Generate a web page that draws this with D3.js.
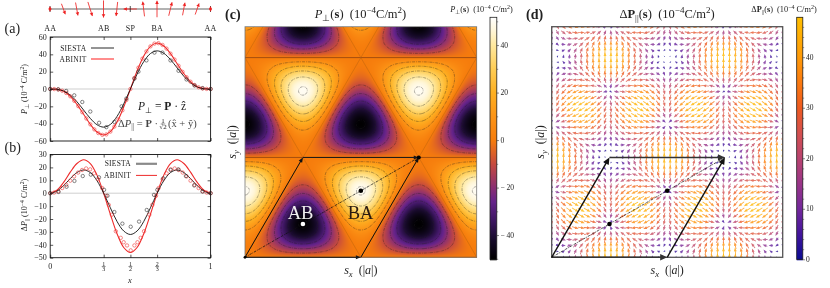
<!DOCTYPE html>
<html><head><meta charset="utf-8">
<script src="https://cdn.jsdelivr.net/npm/d3@7"></script>
<style>
html,body{margin:0;padding:0;background:#fff;overflow:hidden}
#wrap{position:relative;width:830px;height:288px}
canvas{position:absolute;left:0;top:0}
svg{position:absolute;left:0;top:0}
text{font-family:"Liberation Serif",serif;fill:#222;white-space:pre}
</style></head><body><div id="wrap"><canvas id="heat" width="830" height="288"></canvas><svg id="s" width="830" height="288"></svg></div>
<script>
// ---- panels (a) and (b): line data
const xCurve=[0,1/24,2/24,3/24,4/24,5/24,6/24,7/24,8/24,9/24,10/24,11/24,12/24,13/24,14/24,15/24,16/24,17/24,18/24,19/24,20/24,21/24,22/24,23/24,1];
const siestaPerp=[0,-.3,-2.3,-7,-14.7,-24.3,-33.9,-41.2,-44,-40.9,-31.6,-17.2,0,17.2,31.6,40.9,44,41.2,33.9,24.3,14.7,7,2.3,.3,0];
const abinitPerp=[0,-.4,-2.7,-8.4,-17.7,-29.2,-40.8,-49.6,-53,-49.2,-38.1,-20.8,0,20.8,38.1,49.2,53,49.6,40.8,29.2,17.7,8.4,2.7,.4,0];
const siestaPar=[0,1.6,5.9,11.3,16,18,16,9.7,0,-11.3,-21.9,-29.3,-32,-29.3,-21.9,-11.3,0,9.7,16,18,16,11.3,5.9,1.6,0];
const abinitPar=[0,2.3,8.4,16.3,23,25.9,23,14,0,-16.3,-31.4,-42.1,-46,-42.1,-31.4,-16.3,0,14,23,25.9,23,16.3,8.4,2.3,0];
const dotsPerpSiestaX=[0,.05,.1,.15,.2,.25,.305,.35,.4,.445,.475,.525,.55,.6,.65,.7,.75,.8,.85,.9,.95,1];
const dotsPerpSiestaY=[0,-.3,-2.3,-7.3,-15,-26,-39,-44,-38,-20,-11,12,20,33,42,42,33,21,11,4,1,0];
const dotsPerpAbinitX=[0,.025,.05,.075,.1,.125,.15,.175,.2,.225,.25,.275,.3,.325,.35,.375,.4,.425,.45,.475,.5,.525,.55,.575,.6,.625,.65,.675,.7,.725,.75,.775,.8,.825,.85,.875,.9,.925,.95,.975,1];
const dotsPerpAbinitY=[0,-.1,-.6,-2,-4.6,-8.4,-13.6,-19.8,-26.8,-34,-40.8,-46.6,-50.8,-52.9,-52.4,-49.2,-43.4,-35,-24.6,-12.7,0,12.7,24.6,35,43.4,49.2,52.4,52.9,50.8,46.6,40.8,34,26.8,19.8,13.6,8.4,4.6,2,.6,.1,0];
const dotsParSiestaX=[0,.052,.102,.151,.203,.253,.304,.336,.357,.4,.45,.502,.554,.602,.647,.668,.705,.751,.799,.846,.898,.95,1];
const dotsParSiestaY=[0,1,5,9.5,13.3,14.4,12.3,2.6,-2,-14.6,-23.6,-26,-22,-13,-1.3,2.6,11.5,18,18.5,13.3,6,1.3,0];
const dotsParAbinitX=[0,.025,.05,.075,.1,.125,.149,.174,.199,.224,.249,.274,.299,.324,.349,.365,.384,.409,.44,.458,.479,.502,.525,.544,.564,.585,.618,.637,.66,.676,.701,.726,.751,.776,.801,.826,.851,.875,.9,.925,.95,.975,1];
const dotsParAbinitY=[0,.5,1.5,4,6.5,9.7,13,16,18,19.2,18.5,15.4,10.8,4,-2,-9,-16.7,-29.5,-34.6,-38,-40.5,-44.3,-40.5,-38,-34.6,-29.5,-16.7,-9,-2,4,10.8,15.4,18.5,19.2,18,16,13,9.7,6.5,4,1.5,.5,0];
const yTicksA=[-60,-40,-20,0,20,40,60];
const yTicksB=[-50,-40,-30,-20,-10,0,10,20,30];
const xTicks=[0,1/3,1/2,2/3,1];
const siteLabels=["AA","AB","SP","BA","AA"];
// schematic dipole arrows above (a)
const dipoleX=[1/12,2/12,3/12,4/12,5/12,6/12,7/12,8/12,9/12,10/12,11/12];
const dipoleU=[13,8,15,0,-5,-44,-6,0,11,8,13];
const dipoleV=[-35,-43,-47,-57,-47,0,49,55,45,42,37];

// ---- panel (c): P_perp on one lattice cell, rows u=i/12, columns v=j/12
const perpCell=[
[0,0,0,0,0,0,0,0,0,0,0,0],
[0,-2.6,-7,-12.2,-16.7,-19.2,-19.2,-16.7,-12.2,-7,-2.6,0],
[0,-7,-16.7,-26.3,-33.3,-35.9,-33.3,-26.3,-16.7,-7,0,2.6],
[0,-12.2,-26.3,-38.5,-45.5,-45.5,-38.5,-26.3,-12.2,0,7,7],
[0,-16.7,-33.3,-45.5,-50,-45.5,-33.3,-16.7,0,12.2,16.7,12.2],
[0,-19.2,-35.9,-45.5,-45.5,-35.9,-19.2,0,16.7,26.3,26.3,16.7],
[0,-19.2,-33.3,-38.5,-33.3,-19.2,0,19.2,33.3,38.5,33.3,19.2],
[0,-16.7,-26.3,-26.3,-16.7,0,19.2,35.9,45.5,45.5,35.9,19.2],
[0,-12.2,-16.7,-12.2,0,16.7,33.3,45.5,50,45.5,33.3,16.7],
[0,-7,-7,0,12.2,26.3,38.5,45.5,45.5,38.5,26.3,12.2],
[0,-2.6,0,7,16.7,26.3,33.3,35.9,33.3,26.3,16.7,7],
[0,0,2.6,7,12.2,16.7,19.2,19.2,16.7,12.2,7,2.6]];
const contourLevels=[-49,-40,-30,-20,-10,10,20,30,40,49];
const perpStops=[-50.2,-42,-34,-26,-20,-10,0,10,20,30,40,46,51.7];
const perpColors=["#000000","#170a2a","#3c1660","#65238a","#8a2e72","#c64a3e","#f67c0c","#fc9416","#feb022","#ffcd55","#ffe9a0","#fff6d8","#ffffff"];
const cbarTicksC=[-40,-20,0,20,40];
const cbarMinorC=[-50,-30,-10,10,30,50];

// ---- panel (d): in-plane vector on one lattice cell
const quiverVx=[
[0,2.7,10.2,20.4,30.5,38,40.7,38,30.5,20.4,10.2,2.7],
[0,7.4,17.6,27.8,35.2,38,35.2,27.8,17.6,7.4,0,-2.7],
[0,10.2,20.4,27.8,30.5,27.8,20.4,10.2,0,-7.4,-10.2,-7.4],
[0,10.2,17.6,20.4,17.6,10.2,0,-10.2,-17.6,-20.4,-17.6,-10.2],
[0,7.4,10.2,7.4,0,-10.2,-20.4,-27.8,-30.5,-27.8,-20.4,-10.2],
[0,2.7,0,-7.4,-17.6,-27.8,-35.2,-38,-35.2,-27.8,-17.6,-7.4],
[0,-2.7,-10.2,-20.4,-30.5,-38,-40.7,-38,-30.5,-20.4,-10.2,-2.7],
[0,-7.4,-17.6,-27.8,-35.2,-38,-35.2,-27.8,-17.6,-7.4,0,2.7],
[0,-10.2,-20.4,-27.8,-30.5,-27.8,-20.4,-10.2,0,7.4,10.2,7.4],
[0,-10.2,-17.6,-20.4,-17.6,-10.2,0,10.2,17.6,20.4,17.6,10.2],
[0,-7.4,-10.2,-7.4,0,10.2,20.4,27.8,30.5,27.8,20.4,10.2],
[0,-2.7,0,7.4,17.6,27.8,35.2,38,35.2,27.8,17.6,7.4]];
const quiverVy=[
[0,-1.6,-5.9,-11.8,-17.6,-21.9,-23.5,-21.9,-17.6,-11.8,-5.9,-1.6],
[3.1,4.3,1.6,-4.3,-11.8,-18.8,-23.5,-24.7,-21.9,-16,-8.6,-1.6],
[11.8,14.5,11.8,4.3,-5.9,-16,-23.5,-26.2,-23.5,-16,-5.9,4.3],
[23.5,26.2,21.9,11.8,-1.6,-14.5,-23.5,-26.2,-21.9,-11.8,1.6,14.5],
[35.3,36.4,29.4,16,0,-14.5,-23.5,-24.7,-17.6,-4.3,11.8,26.2],
[43.9,42.3,32.1,16,-1.6,-16,-23.5,-21.9,-11.8,4.3,21.9,36.4],
[47,42.3,29.4,11.8,-5.9,-18.8,-23.5,-18.8,-5.9,11.8,29.4,42.3],
[43.9,36.4,21.9,4.3,-11.8,-21.9,-23.5,-16,-1.6,16,32.1,42.3],
[35.3,26.2,11.8,-4.3,-17.6,-24.7,-23.5,-14.5,0,16,29.4,36.4],
[23.5,14.5,1.6,-11.8,-21.9,-26.2,-23.5,-14.5,-1.6,11.8,21.9,26.2],
[11.8,4.3,-5.9,-16,-23.5,-26.2,-23.5,-16,-5.9,4.3,11.8,14.5],
[3.1,-1.6,-8.6,-16,-21.9,-24.7,-23.5,-18.8,-11.8,-4.3,1.6,4.3]];
const magStops=[0,5,10,15,20,25,30,35,40,47.9];
const magColors=["#0b0b92","#43159c","#74289c","#9a3588","#b9436f","#d5504f","#ee5a20","#fb7a0f","#ff9a08","#ffbf00"];
const cbarTicksD=[0,10,20,30,40];
const cbarMinorD=[2,4,6,8,12,14,16,18,22,24,26,28,32,34,36,38,42,44,46];
const quiverCount=40;

// ---- lattice marks (lattice coordinates)
const cellCorners=[[0,0],[1,0],[1,1],[0,1]];
const sites=[[1/3,1/3],[2/3,2/3]];

const svg=d3.select("#s");

// rich text helper
function rich(x,y,size,parts,opt={}){
  const t=svg.append("text").attr("font-size",size).attr("text-anchor",opt.anchor||"start");
  if(opt.rotate!=null) t.attr("transform",`translate(${x},${y}) rotate(${opt.rotate})`);
  else t.attr("x",x).attr("y",y);
  if(opt.fill) t.style("fill",opt.fill);
  let shift=0;
  parts.forEach(p=>{
    const [s,k]=Array.isArray(p)?p:[p,""];
    const sp=t.append("tspan").text(s);
    let target=0,fs=size;
    if(k.includes("_")){target=size*.22;fs=size*.72}
    if(k.includes("^")){target=-size*.38;fs=size*.72}
    if(k.includes("i")) sp.attr("font-style","italic");
    if(k.includes("b")) sp.attr("font-weight","bold");
    sp.attr("font-size",fs).attr("dy",target-shift);
    shift=target;
  });
  return t;
}
function frac(cx,yMid,size,topText,bot){
  svg.append("text").attr("x",cx).attr("y",yMid-1).attr("font-size",size).attr("text-anchor","middle").text(topText);
  svg.append("text").attr("x",cx).attr("y",yMid+size*.75).attr("font-size",size).attr("text-anchor","middle").text(bot);
  svg.append("line").attr("x1",cx-size*.32).attr("x2",cx+size*.32).attr("y1",yMid).attr("y2",yMid).attr("stroke","#222").attr("stroke-width",.5);
}

// ---- line panels
const L=50.2,R=210.6;
const xLine=d3.scaleLinear().domain([0,1]).range([L,R]);
const yA=d3.scaleLinear().domain([-60,60]).range([141,37]);
const yB=d3.scaleLinear().domain([-50,30]).range([257.7,154.5]);
function linePanel(yS,yTicks,sVals,aVals,dsx,dsy,dax,day){
  const [y0,y1]=yS.range();
  const g=svg.append("g");
  g.append("line").attr("x1",L).attr("x2",R).attr("y1",yS(0)).attr("y2",yS(0)).attr("stroke","#cfcfcf").attr("stroke-width",1);
  const ln=v=>d3.line().x((d,i)=>xLine(xCurve[i])).y(d=>yS(d)).curve(d3.curveCatmullRom.alpha(.5))(v);
  g.append("path").attr("d",ln(aVals)).attr("fill","none").attr("stroke","#ee2a2a").attr("stroke-width",1.1);
  g.append("path").attr("d",ln(sVals)).attr("fill","none").attr("stroke","#111").attr("stroke-width",.9);
  g.selectAll(null).data(day).join("circle").attr("cx",(d,i)=>xLine(dax[i])).attr("cy",d=>yS(d)).attr("r",1.7).attr("fill","none").attr("stroke","#ee3a3a").attr("stroke-width",.6);
  g.selectAll(null).data(dsy).join("circle").attr("cx",(d,i)=>xLine(dsx[i])).attr("cy",d=>yS(d)).attr("r",1.7).attr("fill","none").attr("stroke","#222").attr("stroke-width",.55);
  const noFmt=()=>"";
  const ax=(fn,sc,vals,tx)=>{
    const a=g.append("g").attr("transform",tx).call(fn(sc).tickValues(vals).tickSize(-3).tickFormat(noFmt));
    a.select(".domain").remove();
    a.selectAll("line").attr("stroke","#111").attr("stroke-width",.7);
    a.selectAll("text").remove();
  };
  ax(d3.axisLeft,yS,yTicks,`translate(${L},0)`);
  ax(d3.axisRight,yS,yTicks,`translate(${R},0)`);
  ax(d3.axisBottom,xLine,xTicks,`translate(0,${y0})`);
  ax(d3.axisTop,xLine,xTicks,`translate(0,${y1})`);
  g.selectAll(null).data(yTicks).join("text").attr("x",L-3.5).attr("y",d=>yS(d)+2.7).attr("font-size",8).attr("text-anchor","end").text(d=>d<0?"\u2212"+(-d):d);
  g.append("rect").attr("x",L).attr("y",y1).attr("width",R-L).attr("height",y0-y1).attr("fill","none").attr("stroke","#111").attr("stroke-width",.9);
}
linePanel(yA,yTicksA,siestaPerp,abinitPerp,dotsPerpSiestaX,dotsPerpSiestaY,dotsPerpAbinitX,dotsPerpAbinitY);
linePanel(yB,yTicksB,siestaPar,abinitPar,dotsParSiestaX,dotsParSiestaY,dotsParAbinitX,dotsParAbinitY);

// site labels
svg.selectAll(null).data(xTicks).join("text").attr("x",d=>xLine(d)).attr("y",31).attr("font-size",8).attr("text-anchor","middle").attr("letter-spacing",.2).text((d,i)=>siteLabels[i]);
// x tick labels of (b)
svg.append("text").attr("x",xLine(0)).attr("y",269).attr("font-size",8).attr("text-anchor","middle").text("0");
svg.append("text").attr("x",xLine(1)).attr("y",269).attr("font-size",8).attr("text-anchor","middle").text("1");
[[1/3,"3"],[1/2,"2"],[2/3,"3"]].forEach((d,i)=>frac(xLine(d[0]),266.5,6,i==2?"2":"1",d[1]));
rich(130,283,8.5,[["x","i"]],{anchor:"middle"});
// panel letters
svg.append("text").attr("x",4.5).attr("y",33).attr("font-size",14).text("(a)");
svg.append("text").attr("x",4.5).attr("y",152).attr("font-size",14).text("(b)");
svg.append("text").attr("x",225).attr("y",19).attr("font-size",14).attr("font-weight","bold").text("(c)");
svg.append("text").attr("x",526).attr("y",19).attr("font-size",14).attr("font-weight","bold").text("(d)");
// axis titles
rich(27,89,8,[["P","i"],["⊥","_"]," (10",["−4","^"]," C/m",["2","^"],")"],{anchor:"middle",rotate:-90});
rich(27,205,8,["Δ",["P","i"],["||","_"]," (10",["−4","^"]," C/m",["2","^"],")"],{anchor:"middle",rotate:-90});
// legends
const legend=(lab,y,x0,x1,col,w,tx)=>{
  svg.append("text").attr("x",tx).attr("y",y+2.5).attr("font-size",7.5).attr("letter-spacing",.25).attr("text-anchor","end").text(lab);
  svg.append("line").attr("x1",x0).attr("x2",x1).attr("y1",y).attr("y2",y).attr("stroke",col).attr("stroke-width",w);
};
legend("SIESTA",48,91,114,"#111",.9,86.5);
legend("ABINIT",59,91,114,"#ff8d8d",2,86.5);
legend("SIESTA",163.8,136,157,"#8a8a8a",2.2,131);
legend("ABINIT",175.4,136,157,"#ee2a2a",1,131);
// formulas
rich(138,110,11.5,[["P","i"],["⊥","_"]," = ",["P","b"]," · ẑ"]);
rich(118,127,10.5,["Δ",["P","i"],["||","_"]," = ",["P","b"]," · "]).style("fill","#444");
frac(163,124,7,"1","√2");
rich(168,127,10.5,["(x̂ + ŷ)"]).style("fill","#444");

// schematic
const xDip=d3.scaleLinear().domain([0,1]).range([50,210.5]);
const dipScale=d3.scaleLinear().domain([0,1]).range([0,.3]);
const topG=svg.append("g");
topG.append("line").attr("x1",50).attr("x2",210.5).attr("y1",9).attr("y2",9).attr("stroke","#666").attr("stroke-width",1.2);
const arrowRed=(x1,y1,x2,y2)=>{
  const a=Math.atan2(y2-y1,x2-x1),h=3.2,w=1.8;
  topG.append("line").attr("x1",x1).attr("y1",y1).attr("x2",x2).attr("y2",y2).attr("stroke","#ee3030").attr("stroke-width",.9);
  const p=d3.path();p.moveTo(x2,y2);
  p.lineTo(x2-h*Math.cos(a)+w*Math.sin(a),y2-h*Math.sin(a)-w*Math.cos(a));
  p.lineTo(x2-h*Math.cos(a)-w*Math.sin(a),y2-h*Math.sin(a)+w*Math.cos(a));p.closePath();
  topG.append("path").attr("d",p.toString()).attr("fill","#ee2020");
};
dipoleX.forEach((x,i)=>{
  const cx=xDip(x),dx=dipScale(dipoleU[i]),dy=-dipScale(dipoleV[i]);
  arrowRed(cx-dx/2,9-dy/2,cx+dx/2,9+dy/2);
});
[0,.5,1].forEach(v=>topG.append("line").attr("x1",xDip(v)).attr("x2",xDip(v)).attr("y1",6).attr("y2",12).attr("stroke","#222").attr("stroke-width",.8));
[0,1].forEach(v=>topG.append("path").attr("d",d3.symbol(d3.symbolDiamond,9)()).attr("transform",`translate(${xDip(v)},9)`).attr("fill","#ee2020"));

// ---- lattice fields
const N=12;
const cr=(a,b,c,d,t)=>.5*((2*b)+(c-a)*t+(2*a-5*b+4*c-d)*t*t+(3*b-a-3*c+d)*t*t*t);
const mod=(a,n)=>((a%n)+n)%n;
function sampleCell(tbl,u,v){
  const fu=u*N,fv=v*N,iu=Math.floor(fu),iv=Math.floor(fv),tu=fu-iu,tv=fv-iv;
  const rows=[-1,0,1,2].map(di=>{
    const r=tbl[mod(iu+di,N)];
    return cr(r[mod(iv-1,N)],r[mod(iv,N)],r[mod(iv+1,N)],r[mod(iv+2,N)],tv);
  });
  return cr(rows[0],rows[1],rows[2],rows[3],tu);
}
const toLat=(x,y)=>[x-y/Math.sqrt(3),y*2/Math.sqrt(3)];
const fromLat=(u,v)=>[u+v/2,v*Math.sqrt(3)/2];

const C={x0:245,x1:476.7,y0:257.3,y1:26.7};
const D={x0:551.7,x1:782.7,y0:257.3,y1:26.7};
const mk=P=>({x:d3.scaleLinear().domain([0,2]).range([P.x0,P.x1]),y:d3.scaleLinear().domain([0,2]).range([P.y0,P.y1])});
const cS=mk(C),dS=mk(D);
const perpColor=d3.scaleLinear().domain(perpStops).range(perpColors).interpolate(d3.interpolateRgb).clamp(true);
const magColor=d3.scaleLinear().domain(magStops).range(magColors).interpolate(d3.interpolateRgb).clamp(true);

// heat map
const ctx=document.getElementById("heat").getContext("2d");
const px0=Math.round(C.x0),py0=Math.round(C.y1),pw=Math.round(C.x1-C.x0),ph=Math.round(C.y0-C.y1);
const img=ctx.createImageData(pw,ph);
for(let j=0;j<ph;j++)for(let i=0;i<pw;i++){
  const [u,v]=toLat(cS.x.invert(px0+i+.5),cS.y.invert(py0+j+.5));
  const c=d3.rgb(perpColor(sampleCell(perpCell,u,v)));
  const k=(j*pw+i)*4;img.data[k]=c.r;img.data[k+1]=c.g;img.data[k+2]=c.b;img.data[k+3]=255;
}
ctx.putImageData(img,px0,py0);

// contours
const pad=3,cw=pw+2*pad,chh=ph+2*pad,grid=new Float64Array(cw*chh);
for(let j=0;j<chh;j++)for(let i=0;i<cw;i++){
  const [u,v]=toLat(cS.x.invert(px0-pad+i+.5),cS.y.invert(py0-pad+j+.5));
  grid[j*cw+i]=sampleCell(perpCell,u,v);
}
const defs=svg.append("defs");
defs.append("clipPath").attr("id","cc").append("rect").attr("x",C.x0).attr("y",C.y1).attr("width",C.x1-C.x0).attr("height",C.y0-C.y1);
defs.append("clipPath").attr("id","dc").append("rect").attr("x",D.x0).attr("y",D.y1).attr("width",D.x1-D.x0).attr("height",D.y0-D.y1);
const gc=svg.append("g").attr("clip-path","url(#cc)");
gc.append("g").attr("transform",`translate(${px0-pad},${py0-pad})`).selectAll("path")
  .data(d3.contours().size([cw,chh]).thresholds(contourLevels)(grid)).join("path")
  .attr("d",d3.geoPath()).attr("fill","none").attr("stroke","#222").attr("stroke-opacity",.62).attr("stroke-width",.6).attr("stroke-dasharray","3 1 .8 1");
// zero lines of the triangular mesh
const meshU=d3.range(-3,5);
const meshPaths=[];
meshU.forEach(k=>{
  meshPaths.push({a:[k,-4],b:[k,8],h:0});
  meshPaths.push({a:[-4,k],b:[8,k],h:1});
  meshPaths.push({a:[k+4,-4],b:[k-8,8],h:0});
});
gc.selectAll(null).data(meshPaths).join("line")
  .attr("x1",d=>cS.x(fromLat(...d.a)[0])).attr("y1",d=>cS.y(fromLat(...d.a)[1]))
  .attr("x2",d=>cS.x(fromLat(...d.b)[0])).attr("y2",d=>cS.y(fromLat(...d.b)[1]))
  .attr("stroke",d=>d.h?"#9c4a10":"#c0650f").attr("stroke-width",d=>d.h?.9:.55);
svg.append("rect").attr("x",C.x0).attr("y",C.y1).attr("width",C.x1-C.x0).attr("height",C.y0-C.y1).attr("fill","none").attr("stroke","#777").attr("stroke-width",.8);

// quiver
const gd=svg.append("g").attr("clip-path","url(#dc)");
const qx=d3.range(quiverCount).map(i=>i/(quiverCount-1)*2),qs=[];
qx.forEach(y=>qx.forEach(x=>{
  const [u,v]=toLat(x,y);
  const vx=sampleCell(quiverVx,u,v),vy=sampleCell(quiverVy,u,v);
  qs.push({x,y,vx,vy,m:Math.hypot(vx,vy)});
}));
const lenS=d3.scalePow().exponent(.35).domain([0,47.9]).range([0,8]);
function arrowPath(d){
  const len=lenS(d.m); if(len<.2) return "";
  const w=Math.min(.85,len*.2),hw=w*1.7,hl=Math.min(w*4.4,len);
  const ca=d.vx/d.m,sa=-d.vy/d.m;
  const X=dS.x(d.x),Y=dS.y(d.y);
  const pt=(a,b)=>[X+(a-len/2)*ca-b*sa,Y+(a-len/2)*sa+b*ca];
  const p=d3.path();
  [[0,-w/2],[len-hl,-w/2],[len-hl,-hw],[len,0],[len-hl,hw],[len-hl,w/2],[0,w/2]].forEach((q,i)=>{const r=pt(q[0],q[1]);i?p.lineTo(r[0],r[1]):p.moveTo(r[0],r[1])});
  p.closePath();return p.toString();
}
gd.selectAll("path").data(qs).join("path").attr("d",arrowPath).attr("fill",d=>magColor(d.m)).attr("fill-opacity",.8);
svg.append("rect").attr("x",D.x0).attr("y",D.y1).attr("width",D.x1-D.x0).attr("height",D.y0-D.y1).attr("fill","none").attr("stroke","#555").attr("stroke-width",1.3);

// parallelogram overlays
function blackArrow(S,a,b,col,w,hl,hw){
  const p0=fromLat(...a),p1=fromLat(...b);
  const x1=S.x(p0[0]),y1=S.y(p0[1]),x2=S.x(p1[0]),y2=S.y(p1[1]);
  const an=Math.atan2(y2-y1,x2-x1);
  svg.append("line").attr("x1",x1).attr("y1",y1).attr("x2",x2-hl*.7*Math.cos(an)).attr("y2",y2-hl*.7*Math.sin(an)).attr("stroke",col).attr("stroke-width",w);
  const p=d3.path();p.moveTo(x2,y2);
  p.lineTo(x2-hl*Math.cos(an)+hw*Math.sin(an),y2-hl*Math.sin(an)-hw*Math.cos(an));
  p.lineTo(x2-hl*Math.cos(an)-hw*Math.sin(an),y2-hl*Math.sin(an)+hw*Math.cos(an));p.closePath();
  svg.append("path").attr("d",p.toString()).attr("fill",col);
}
function overlay(S,w,hl,hw,edge){
  const p0=fromLat(0,0),p1=fromLat(1,1);
  svg.append("line").attr("x1",S.x(p0[0])).attr("y1",S.y(p0[1])).attr("x2",S.x(p1[0])).attr("y2",S.y(p1[1])).attr("stroke","#111").attr("stroke-width",.75).attr("stroke-dasharray","2.4 1 .8 1");
  blackArrow(S,cellCorners[0],cellCorners[1],edge,w,hl,hw);
  blackArrow(S,cellCorners[0],cellCorners[3],"#111",w,hl,hw);
  blackArrow(S,cellCorners[1],cellCorners[2],"#111",w,hl,hw);
  blackArrow(S,cellCorners[3],cellCorners[2],edge,w,hl,hw);
}
overlay(cS,1,5,2,"#1a1a1a");
overlay(dS,1.4,7,3.2,"#333");
const site=(S,c,col,r)=>{const p=fromLat(...c);svg.append("circle").attr("cx",S.x(p[0])).attr("cy",S.y(p[1])).attr("r",r).attr("fill",col)};
site(cS,sites[0],"#fff",2.3);site(cS,sites[1],"#000",2.3);site(cS,[1,1],"#000",2);site(cS,[0,0],"#000",1.4);
site(dS,sites[0],"#000",2.3);site(dS,sites[1],"#000",2.3);
svg.append("text").attr("x",300.6).attr("y",218.5).attr("font-size",18.5).attr("text-anchor","middle").style("fill","#f0f0f0").text("AB");
svg.append("text").attr("x",360.6).attr("y",218.5).attr("font-size",18.5).attr("text-anchor","middle").style("fill","#2a1a10").text("BA");

// titles
rich(360.5,18,12.5,[["P","i"],["⊥","_"],"(",["s","b"],")  (10",["−4","^"],"C/m",["2","^"],")"],{anchor:"middle"});
rich(667,18,12.5,["Δ",["P","b"],["||","_"],"(",["s","b"],")  (10",["−4","^"],"C/m",["2","^"],")"],{anchor:"middle"});
[[cS,C,232],[dS,D,540]].forEach(([S,P,xl])=>{
  rich((P.x0+P.x1)/2,274,12,[["s","i"],["x","_i"],"  (|",["a","i"],"|)"],{anchor:"middle"});
  rich(xl+4,(P.y0+P.y1)/2,12,[["s","i"],["y","_i"],"  (|",["a","i"],"|)"],{anchor:"middle",rotate:-90});
});

// colorbars
function colorbar(x0,x1,y0,y1,lo,hi,color,ticks,minor,lx,fmt){
  const ys=d3.scaleLinear().domain([lo,hi]).range([y0,y1]);
  const g=svg.append("g");
  g.selectAll(null).data(d3.range(Math.floor(y1),Math.ceil(y0))).join("rect")
    .attr("x",x0).attr("width",x1-x0).attr("y",d=>d).attr("height",1.3).attr("fill",d=>color(ys.invert(d+.5)));
  g.append("rect").attr("x",x0).attr("y",y1).attr("width",x1-x0).attr("height",y0-y1).attr("fill","none").attr("stroke","#222").attr("stroke-width",.8);
  const a=g.append("g").attr("transform",`translate(${x1},0)`).call(d3.axisRight(ys).tickValues(ticks).tickSize(2.2).tickFormat(()=>"" ));
  a.select(".domain").remove();a.selectAll("text").remove();a.selectAll("line").attr("stroke","#333").attr("stroke-width",.6);
  const b=g.append("g").attr("transform",`translate(${x1},0)`).call(d3.axisRight(ys).tickValues(minor).tickSize(1.4).tickFormat(()=>""));
  b.select(".domain").remove();b.selectAll("text").remove();b.selectAll("line").attr("stroke","#333").attr("stroke-width",.5);
  g.selectAll(null).data(ticks).join("text").attr("x",lx).attr("y",d=>ys(d)+2.6).attr("font-size",7.5).text(fmt);
}
colorbar(490,496.8,259.3,17.3,-50.2,51.7,perpColor,cbarTicksC,cbarMinorC,500.5,d=>d<0?"\u2212 "+(-d):d);
colorbar(796.7,802.8,259.3,17.3,0,47.9,magColor,cbarTicksD,cbarMinorD,806,d=>d);
rich(481.5,12,8.3,[["P","i"],["⊥","_"],"(",["s","b"],")  (10",["−4","^"]," C/m",["2","^"],")"],{anchor:"middle"});
rich(784,12,8.3,["Δ",["P","b"],["||","_"],"(",["s","b"],")  (10",["−4","^"]," C/m",["2","^"],")"],{anchor:"middle"});
</script></body></html>
